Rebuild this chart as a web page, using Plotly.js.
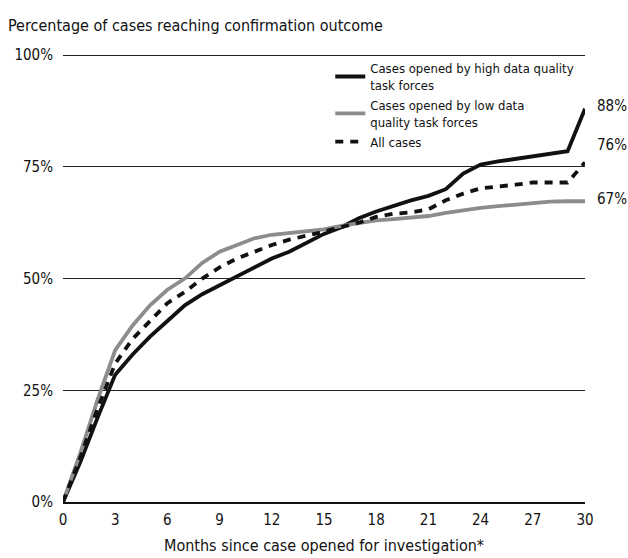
<!DOCTYPE html>
<html>
<head>
<meta charset="utf-8">
<script src="https://cdn.plot.ly/plotly-3.0.1.min.js"></script>
<style>html,body{margin:0;padding:0;background:#fff;}#chart{width:628px;height:558px;}</style>
</head>
<body>
<div id="chart"></div>
<script>
var months = [0,1,2,3,4,5,6,7,8,9,10,11,12,13,14,15,16,17,18,19,20,21,22,23,24,25,26,27,28,29,30];
var highQuality = [0,9,19,28.5,33,37,40.5,44,46.5,48.5,50.5,52.5,54.5,56,58,60,61.5,63.5,65,66.3,67.5,68.5,70,73.5,75.5,76.2,76.8,77.5,78,78.5,88];
var lowQuality = [0,11,23,34,39.5,44,47.5,50,53.5,56,57.5,59,59.8,60.2,60.5,61,61.8,62.5,63,63.3,63.6,64,64.7,65.3,65.8,66.2,66.6,67,67.2,67.3,67.3];
var allCases = [0,10,21,31,36.5,40.5,44.5,47,50,52.5,54.5,56,57.5,58.7,59.5,60.5,61.5,62.5,63.8,64.5,64.8,65.5,67.5,69,70.2,70.5,71,71.5,71.5,71.5,76];
var seriesNames = ["Cases opened by high data quality<br>task forces", "Cases opened by low data<br>quality task forces", "All cases"];
var endLabels = ["88%", "76%", "67%"];
var xTicks = [0,3,6,9,12,15,18,21,24,27,30];
var yTicks = [0,25,50,75,100];
var yTickText = ["0%","25%","50%","75%","100%"];

var FONT = "Liberation Sans Narrow, DejaVu Sans Condensed, Arial Narrow, sans-serif";

var traces = [
  {x: months, y: highQuality, name: seriesNames[0], mode: "lines", type: "scatter",
   line: {color: "#111", width: 3.8}},
  {x: months, y: lowQuality, name: seriesNames[1], mode: "lines", type: "scatter",
   line: {color: "#8c8c8c", width: 3.8}},
  {x: months, y: allCases, name: seriesNames[2], mode: "lines", type: "scatter",
   line: {color: "#111", width: 3.8, dash: "8px,7px"}}
];

var series = [highQuality, allCases, lowQuality];
var shifts = [3, 17, 2];
var annotations = [0, 1, 2].map(function(i){
  var s = series[i];
  return {x: 1, xref: "paper", y: s[s.length-1], yref: "y", text: endLabels[i],
          showarrow: false, xanchor: "left", yanchor: "middle", xshift: 10, yshift: shifts[i],
          font: {family: FONT, size: 15, color: "#111"}};
});

var layout = {
  width: 628, height: 558,
  margin: {l: 63, r: 43, t: 54, b: 56},
  paper_bgcolor: "#fff", plot_bgcolor: "#fff",
  font: {family: FONT, size: 15, color: "#111"},
  title: {text: "Percentage of cases reaching confirmation outcome",
          x: 8/628, xref: "container", xanchor: "left",
          y: 1 - 25/558, yref: "container", yanchor: "middle",
          font: {family: FONT, size: 16, color: "#111"}},
  xaxis: {range: [0, 30], tickvals: xTicks, ticktext: xTicks.map(String),
          showgrid: false, zeroline: false, showline: true, linecolor: "#111", linewidth: 1.5,
          ticks: "", ticklabelstandoff: 3, tickfont: {family: FONT, size: 15, color: "#111"},
          title: {text: "Months since case opened for investigation*", standoff: 12,
                  font: {family: FONT, size: 16, color: "#111"}},
          fixedrange: true},
  yaxis: {range: [0, 100.25], tickvals: yTicks, ticktext: yTickText,
          showgrid: true, gridcolor: "#222", gridwidth: 1, zeroline: false, showline: false,
          ticks: "", ticklabelstandoff: 9, tickfont: {family: FONT, size: 15, color: "#111"},
          fixedrange: true},
  legend: {x: 0.512, xanchor: "left", y: 1.002, yanchor: "top",
           bgcolor: "rgba(255,255,255,0)", itemwidth: 30,
           font: {family: FONT, size: 13, color: "#111"}},
  showlegend: true,
  annotations: annotations
};

Plotly.newPlot("chart", traces, layout, {displayModeBar: false, staticPlot: true});
</script>
</body>
</html>
